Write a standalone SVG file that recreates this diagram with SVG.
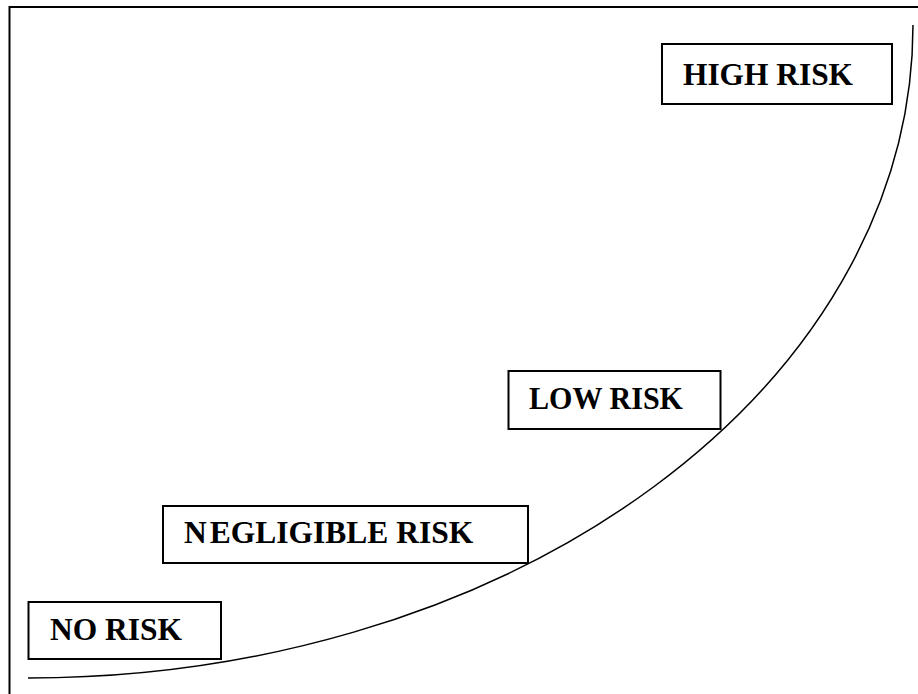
<svg xmlns="http://www.w3.org/2000/svg" width="918" height="694" viewBox="0 0 918 694">
<style>
.frame{stroke:#000;stroke-width:2;fill:none}
.box{fill:#fff;stroke:#000;stroke-width:2}
.lbl{font-family:"Liberation Serif","Times New Roman",serif;font-weight:bold;font-size:31.5px;fill:#000}
.curve{stroke:#000;stroke-width:1.5;fill:none}
</style>
<rect width="918" height="694" fill="#fff"/>
<g id="frame">
<path class="frame" d="M9.5 694 V7 H918"/>
</g>
<g id="connectors">
<path class="curve" d="M28 678 A885 653 0 0 0 913 25"/>
</g>
<g id="high-risk">
<rect class="box" x="662" y="44" width="230" height="60"/>
<text class="lbl" x="683" y="85" textLength="170" lengthAdjust="spacingAndGlyphs">HIGH RISK</text>
</g>
<g id="low-risk">
<rect class="box" x="508.5" y="371" width="212" height="58"/>
<text class="lbl" x="529" y="409" textLength="154" lengthAdjust="spacingAndGlyphs">LOW RISK</text>
</g>
<g id="negligible-risk">
<rect class="box" x="163" y="506" width="365" height="57"/>
<text class="lbl" x="184" y="543">N<tspan dx="3">EGLIGIBLE RISK</tspan></text>
</g>
<g id="no-risk">
<rect class="box" x="28.5" y="602" width="192.5" height="57"/>
<text class="lbl" x="50" y="640" textLength="132" lengthAdjust="spacingAndGlyphs">NO RISK</text>
</g>
</svg>
